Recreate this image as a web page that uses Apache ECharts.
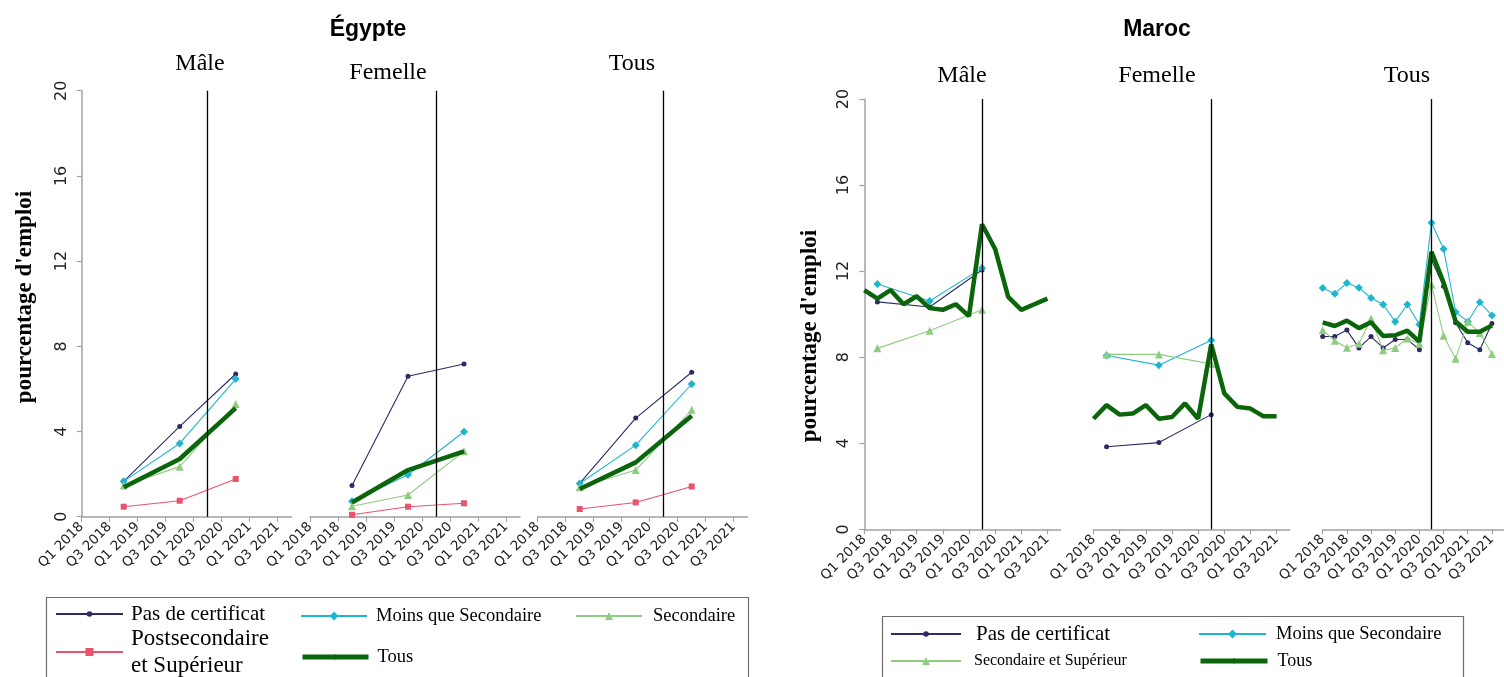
<!DOCTYPE html>
<html>
<head>
<meta charset="utf-8">
<title>Pourcentage d'emploi — Égypte et Maroc</title>
<script src="https://cdn.jsdelivr.net/npm/echarts@6/dist/echarts.min.js"></script>
<style>
  html, body { margin: 0; padding: 0; background: #ffffff; }
  #chart { width: 1504px; height: 677px; }
</style>
</head>
<body>
<div id="chart"></div>
<script>
// ---- Axis categories and ticks ----
const quarters = ['Q1 2018', 'Q2 2018', 'Q3 2018', 'Q4 2018',
                  'Q1 2019', 'Q2 2019', 'Q3 2019', 'Q4 2019',
                  'Q1 2020', 'Q2 2020', 'Q3 2020', 'Q4 2020',
                  'Q1 2021', 'Q2 2021', 'Q3 2021', 'Q4 2021'];
const yMin = 0, yMax = 20, yStep = 4;
const breakQuarter = 'Q2 2020';

// ---- Égypte: survey rounds ----
const egyptRounds = ['Q4 2018', 'Q4 2019', 'Q4 2020'];

const egMalePas   = [1.66, 4.24, 6.70];
const egMaleMoins = [1.66, 3.44, 6.46];
const egMaleSec   = [1.46, 2.35, 5.29];
const egMalePost  = [0.47, 0.75, 1.77];
const egMaleTous  = [1.38, 2.71, 5.10];

const egFemPas   = [1.46, 6.59, 7.17];
const egFemMoins = [0.72, 1.97, 3.99];
const egFemSec   = [0.49, 1.02, 3.07];
const egFemPost  = [0.09, 0.47, 0.63];
const egFemTous  = [0.67, 2.19, 3.07];

const egAllPas   = [1.56, 4.63, 6.78];
const egAllMoins = [1.56, 3.36, 6.23];
const egAllSec   = [1.38, 2.19, 5.02];
const egAllPost  = [0.36, 0.67, 1.42];
const egAllTous  = [1.30, 2.55, 4.74];

// ---- Maroc: yearly rounds by education, quarterly totals ----
const morRounds = ['Q2 2018', 'Q2 2019', 'Q2 2020'];
const morQuarterly = quarters.slice(0, 15);

const maMalePas   = [10.57, 10.33, 12.05];
const maMaleMoins = [11.40, 10.61, 12.14];
const maMaleSec   = [8.41, 9.23, 10.20];
const maMaleTous  = [11.12, 10.72, 11.12, 10.46, 10.83, 10.28, 10.20, 10.46, 9.91, 14.18, 13.03, 10.80, 10.20, 10.46, 10.72];

const maFemPas   = [3.84, 4.03, 5.33];
const maFemMoins = [8.08, 7.63, 8.79];
const maFemSec   = [8.13, 8.13, 7.69];
const maFemTous  = [5.14, 5.77, 5.33, 5.38, 5.77, 5.14, 5.22, 5.85, 5.14, 8.60, 6.32, 5.69, 5.61, 5.25, 5.25];

const maAllPas   = [8.96, 8.96, 9.26, 8.43, 8.96, 8.43, 8.82, 8.82, 8.35, 12.50, 11.30, 9.60, 8.67, 8.35, 9.57];
const maAllMoins = [11.22, 10.95, 11.45, 11.23, 10.75, 10.45, 9.65, 10.45, 9.52, 14.25, 13.03, 10.10, 9.65, 10.55, 9.94];
const maAllSec   = [9.26, 8.76, 8.44, 8.62, 9.80, 8.32, 8.43, 8.87, 8.62, 11.38, 9.00, 7.93, 9.65, 9.12, 8.15];
const maAllTous  = [9.62, 9.45, 9.70, 9.35, 9.62, 8.98, 9.02, 9.23, 8.72, 12.90, 11.47, 9.66, 9.18, 9.18, 9.47];

// ---- Helpers ----
// Place values on the quarterly category axis (empty quarters stay null).
function onQuarters(labels, values) {
  return quarters.map(q => {
    const i = labels.indexOf(q);
    return i >= 0 ? values[i] : null;
  });
}

const STYLE = {
  'Pas de certificat':           { color: '#2E2A66', symbol: 'circle',   size: 5, width: 1.1 },
  'Moins que Secondaire':        { color: '#1DB6D0', symbol: 'diamond',  size: 8, width: 1.1 },
  'Secondaire':                  { color: '#8FCC80', symbol: 'triangle', size: 8, width: 1.1 },
  'Secondaire et Supérieur':     { color: '#8FCC80', symbol: 'triangle', size: 8, width: 1.1 },
  'Postsecondaire et Supérieur': { color: '#E9536C', symbol: 'rect',     size: 6, width: 1.1 },
  'Tous':                        { color: '#0B650B', symbol: 'none',     size: 0, width: 4.5 }
};

const AXIS_GRAY = '#a3a3a3';

// Panel geometry
const panels = [
  { left: 81.7,  top: 90.7, width: 210,   height: 426,   yAxis: true  },
  { left: 310,   top: 90.7, width: 210,   height: 426,   yAxis: false },
  { left: 537.7, top: 90.7, width: 210,   height: 426,   yAxis: false },
  { left: 864.3, top: 99,   width: 196.2, height: 430.3, yAxis: true  },
  { left: 1093.5,top: 99,   width: 196.2, height: 430.3, yAxis: false },
  { left: 1322.7,top: 99,   width: 196.2, height: 430.3, yAxis: false }
];

// Series per panel
const panelSeries = [
  [['Pas de certificat', onQuarters(egyptRounds, egMalePas)],
   ['Moins que Secondaire', onQuarters(egyptRounds, egMaleMoins)],
   ['Secondaire', onQuarters(egyptRounds, egMaleSec)],
   ['Postsecondaire et Supérieur', onQuarters(egyptRounds, egMalePost)],
   ['Tous', onQuarters(egyptRounds, egMaleTous)]],
  [['Pas de certificat', onQuarters(egyptRounds, egFemPas)],
   ['Moins que Secondaire', onQuarters(egyptRounds, egFemMoins)],
   ['Secondaire', onQuarters(egyptRounds, egFemSec)],
   ['Postsecondaire et Supérieur', onQuarters(egyptRounds, egFemPost)],
   ['Tous', onQuarters(egyptRounds, egFemTous)]],
  [['Pas de certificat', onQuarters(egyptRounds, egAllPas)],
   ['Moins que Secondaire', onQuarters(egyptRounds, egAllMoins)],
   ['Secondaire', onQuarters(egyptRounds, egAllSec)],
   ['Postsecondaire et Supérieur', onQuarters(egyptRounds, egAllPost)],
   ['Tous', onQuarters(egyptRounds, egAllTous)]],
  [['Pas de certificat', onQuarters(morRounds, maMalePas)],
   ['Moins que Secondaire', onQuarters(morRounds, maMaleMoins)],
   ['Secondaire et Supérieur', onQuarters(morRounds, maMaleSec)],
   ['Tous', onQuarters(morQuarterly, maMaleTous)]],
  [['Pas de certificat', onQuarters(morRounds, maFemPas)],
   ['Moins que Secondaire', onQuarters(morRounds, maFemMoins)],
   ['Secondaire et Supérieur', onQuarters(morRounds, maFemSec)],
   ['Tous', onQuarters(morQuarterly, maFemTous)]],
  [['Pas de certificat', onQuarters(morQuarterly, maAllPas)],
   ['Moins que Secondaire', onQuarters(morQuarterly, maAllMoins)],
   ['Secondaire et Supérieur', onQuarters(morQuarterly, maAllSec)],
   ['Tous', onQuarters(morQuarterly, maAllTous)]]
];

const grid = [], xAxis = [], yAxis = [], series = [];

panels.forEach((p, i) => {
  grid.push({ left: p.left, top: p.top, width: p.width, height: p.height, containLabel: false });
  xAxis.push({
    type: 'category', gridIndex: i, data: quarters, boundaryGap: false,
    axisLine: { show: true, lineStyle: { color: AXIS_GRAY, width: 1.5 } },
    axisTick: { show: true, interval: 1, length: 5, lineStyle: { color: AXIS_GRAY, width: 1.2 } },
    axisLabel: { interval: 1, rotate: 45, margin: 8, hideOverlap: false,
                 fontFamily: 'DejaVu Sans', fontSize: 13.5, color: '#222' },
    splitLine: { show: false }
  });
  yAxis.push({
    type: 'value', gridIndex: i, min: yMin, max: yMax, interval: yStep, show: p.yAxis,
    axisLine: { show: true, lineStyle: { color: AXIS_GRAY, width: 1.5 } },
    axisTick: { show: true, length: 5, lineStyle: { color: AXIS_GRAY, width: 1.2 } },
    axisLabel: { rotate: 90, margin: 12, fontFamily: 'DejaVu Sans', fontSize: 16, color: '#222' },
    splitLine: { show: false }
  });

  panelSeries[i].forEach(([name, data]) => {
    const s = STYLE[name];
    series.push({
      type: 'line', name, data, xAxisIndex: i, yAxisIndex: i,
      connectNulls: true, animation: false, silent: true,
      symbol: s.symbol, symbolSize: s.size,
      showSymbol: s.symbol !== 'none', showAllSymbol: true,
      lineStyle: { color: s.color, width: s.width },
      itemStyle: { color: s.color },
      z: name === 'Tous' ? 3 : 2
    });
  });

  // Vertical reference line at Q2 2020
  series.push({
    type: 'line', name: 'Q2 2020', data: quarters.map(() => null),
    xAxisIndex: i, yAxisIndex: i, animation: false, silent: true, z: 6,
    markLine: {
      silent: true, animation: false, symbol: ['none', 'none'],
      label: { show: false },
      lineStyle: { color: '#000', width: 1.3, type: 'solid' },
      emphasis: { disabled: true },
      data: [{ xAxis: breakQuarter }]
    }
  });
});

// ---- Legends: one component per entry so each sits in its own slot ----
function legendEntry(name, left, top, itemWidth, itemHeight, lineWidth, fontSize, padLeft, extra) {
  return Object.assign({
    show: true, left, top, orient: 'horizontal', padding: 0,
    itemWidth, itemHeight, selectedMode: false,
    data: [{ name, lineStyle: { width: lineWidth },
             textStyle: { fontFamily: 'Liberation Serif', fontSize, color: '#000', padding: [0, 0, 0, padLeft] } }]
  }, extra || {});
}

const legend = [
  legendEntry('Pas de certificat',    55,  603.5, 67, 7,  2,   21,   3),
  legendEntry('Moins que Secondaire', 300, 606.5, 66, 11, 2,   18.5, 4),
  legendEntry('Secondaire',           575, 606.5, 66, 10, 2,   18.5, 6),
  legendEntry('Postsecondaire et Supérieur', 55, 625, 67, 10, 2, 23, 3, {
    formatter: n => n.replace(' et ', '\net '),
    data: [{ name: 'Postsecondaire et Supérieur', lineStyle: { width: 2 },
             textStyle: { fontFamily: 'Liberation Serif', fontSize: 23, lineHeight: 27, color: '#000', padding: [0, 0, 0, 3] } }]
  }),
  legendEntry('Tous',                 300, 647.5, 66, 6,  5,   18.5, 4),

  legendEntry('Pas de certificat',    890,  623.5, 70, 7,  2,   21,   10),
  legendEntry('Moins que Secondaire', 1198, 624.5, 67, 11, 2,   18.5, 5),
  legendEntry('Secondaire et Supérieur', 890, 653, 70, 10, 2,   16,   8),
  legendEntry('Tous',                 1198, 652,  67, 6,  5,   18,   5)
];

// ---- Titles ----
const serifTitle = { fontFamily: 'Liberation Serif', fontSize: 24, fontWeight: 'normal', color: '#000' };
const boldTitle  = { fontFamily: 'Liberation Sans', fontSize: 23, fontWeight: 'bold', color: '#000' };
const title = [
  { text: 'Égypte',  left: 368,  top: 18.5, textAlign: 'center', padding: 0, textStyle: boldTitle },
  { text: 'Maroc',   left: 1157, top: 18.5, textAlign: 'center', padding: 0, textStyle: boldTitle },
  { text: 'Mâle',    left: 200,  top: 52,   textAlign: 'center', padding: 0, textStyle: serifTitle },
  { text: 'Femelle', left: 388,  top: 61,   textAlign: 'center', padding: 0, textStyle: serifTitle },
  { text: 'Tous',    left: 632,  top: 52,   textAlign: 'center', padding: 0, textStyle: serifTitle },
  { text: 'Mâle',    left: 962,  top: 64,   textAlign: 'center', padding: 0, textStyle: serifTitle },
  { text: 'Femelle', left: 1157, top: 64,   textAlign: 'center', padding: 0, textStyle: serifTitle },
  { text: 'Tous',    left: 1407, top: 64,   textAlign: 'center', padding: 0, textStyle: serifTitle }
];

// ---- Axis titles and legend frames ----
const yTitleStyle = { text: "pourcentage d'emploi", fontFamily: 'Liberation Serif', fontSize: 23,
                      fontWeight: 'bold', fill: '#000', align: 'center', verticalAlign: 'middle' };
const graphic = [
  { type: 'text', x: 25,  y: 297, rotation: Math.PI / 2, style: yTitleStyle, silent: true },
  { type: 'text', x: 810, y: 336, rotation: Math.PI / 2, style: yTitleStyle, silent: true },
  { type: 'rect', shape: { x: 46.5, y: 597.5, width: 702, height: 100 }, silent: true, z: -1,
    style: { fill: 'none', stroke: '#6e6e6e', lineWidth: 1.2 } },
  { type: 'rect', shape: { x: 882.5, y: 616.5, width: 581, height: 80 }, silent: true, z: -1,
    style: { fill: 'none', stroke: '#6e6e6e', lineWidth: 1.2 } }
];

const chart = echarts.init(document.getElementById('chart'), null, { renderer: 'canvas' });
chart.setOption({
  animation: false,
  backgroundColor: '#ffffff',
  title, legend, grid, xAxis, yAxis, series, graphic
});
</script>
</body>
</html>
